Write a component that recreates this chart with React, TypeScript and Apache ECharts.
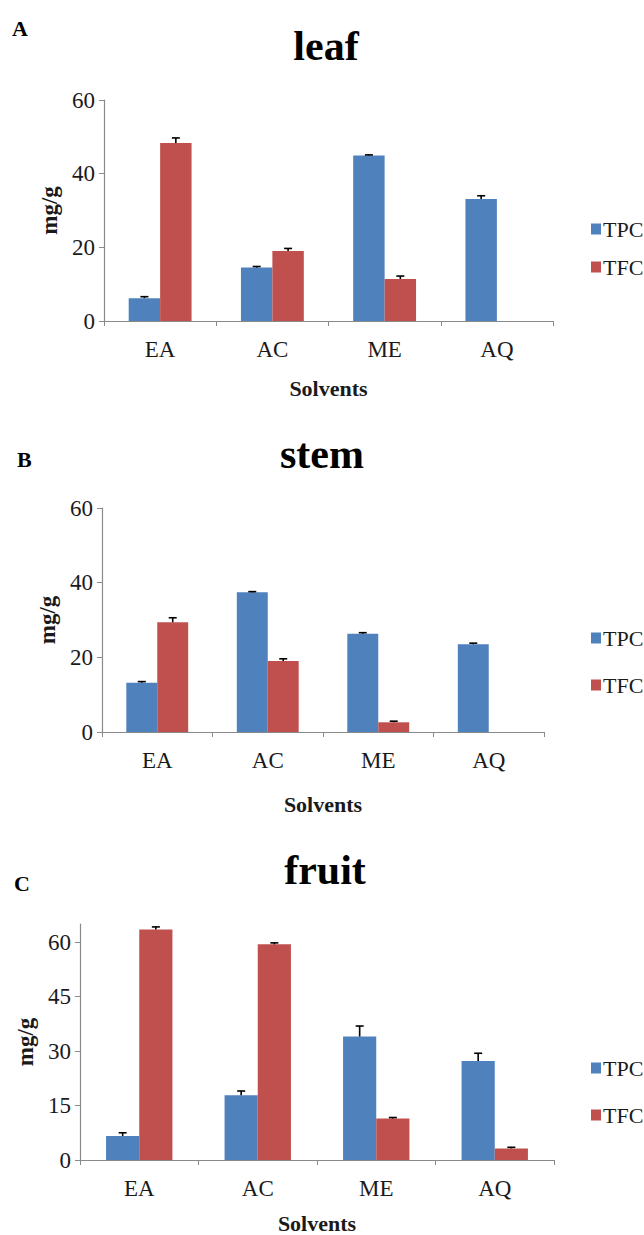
import React, { useEffect, useRef } from "react";
import * as echarts from "echarts";

// ---- data ----
const categories = ["EA", "AC", "ME", "AQ"];
const seriesNames = ["TPC", "TFC"];

const leafTPC = [6.2, 14.5, 44.9, 33.1];
const leafTPCErr = [0.4, 0.3, 0.2, 0.9];
const leafTFC = [48.3, 19.0, 11.4, 0];
const leafTFCErr = [1.4, 0.7, 0.8, 0];

const stemTPC = [13.2, 37.4, 26.3, 23.5];
const stemTPCErr = [0.3, 0.2, 0.3, 0.3];
const stemTFC = [29.4, 19.0, 2.6, 0];
const stemTFCErr = [1.2, 0.6, 0.3, 0];

const fruitTPC = [6.6, 17.8, 34.0, 27.3];
const fruitTPCErr = [0.9, 1.2, 2.9, 2.1];
const fruitTFC = [63.5, 59.4, 11.4, 3.2];
const fruitTFCErr = [0.7, 0.4, 0.3, 0.3];

const panelTitles = ["leaf", "stem", "fruit"];
const panelLetters = ["A", "B", "C"];
const yMax = [60, 60, 65];
const yInterval = [20, 20, 15];

// ---- layout / style ----
const FONT = "'Liberation Serif', 'Times New Roman', serif";
const BLUE = "#4F81BD";
const RED = "#C0504D";
const AXIS = "#8a8a8a";
const TEXT = "#1a1a1a";
const GAP = 0.44;

const layouts = [
  { grid: { left: 104, top: 100, width: 449, height: 221 }, titleX: 326, titleY: 46, letterX: 12, letterY: 28, legendTop: 213, legendGap: 16, xNameGap: 56, yNameGap: 43 },
  { grid: { left: 102, top: 508, width: 442, height: 224 }, titleX: 322, titleY: 454, letterX: 17, letterY: 459, legendTop: 622, legendGap: 25, xNameGap: 61, yNameGap: 41 },
  { grid: { left: 80, top: 924, width: 474, height: 238 }, titleX: 325, titleY: 870, letterX: 14, letterY: 883, legendTop: 1052, legendGap: 25, xNameGap: 52, yNameGap: 43 },
];

const panelData = [
  { tpc: leafTPC, tpcErr: leafTPCErr, tfc: leafTFC, tfcErr: leafTFCErr },
  { tpc: stemTPC, tpcErr: stemTPCErr, tfc: stemTFC, tfcErr: stemTFCErr },
  { tpc: fruitTPC, tpcErr: fruitTPCErr, tfc: fruitTFC, tfcErr: fruitTFCErr },
];

function errRender(side: number) {
  return (params: any, api: any) => {
    const x = api.value(0);
    const y = api.value(1);
    const e = api.value(2);
    if (!e) return null;
    const base = api.coord([x, y]);
    const top = api.coord([x, y + e]);
    const band = api.size([1, 0])[0];
    const barW = (band * (1 - GAP)) / 2;
    const cx = base[0] + (side * barW) / 2;
    const st = { stroke: "#000", lineWidth: 1.6 };
    return {
      type: "group",
      children: [
        { type: "line", shape: { x1: cx, y1: base[1], x2: cx, y2: top[1] }, style: st },
        { type: "line", shape: { x1: cx - 4, y1: top[1], x2: cx + 4, y2: top[1] }, style: st },
      ],
    };
  };
}

function buildOption() {
  const grid: any[] = [];
  const xAxis: any[] = [];
  const yAxis: any[] = [];
  const legend: any[] = [];
  const series: any[] = [];
  const graphic: any[] = [];

  layouts.forEach((L, i) => {
    grid.push({ ...L.grid, containLabel: false });
    xAxis.push({
      type: "category",
      gridIndex: i,
      data: categories,
      name: "Solvents",
      nameLocation: "middle",
      nameGap: L.xNameGap,
      nameTextStyle: { fontFamily: FONT, fontWeight: "bold", fontSize: 22, color: TEXT },
      axisLine: { lineStyle: { color: AXIS, width: 1.2 } },
      axisTick: { show: true, length: 5, lineStyle: { color: AXIS } },
      axisLabel: { fontFamily: FONT, fontSize: 23, color: TEXT, margin: 17 },
      splitLine: { show: false },
    });
    yAxis.push({
      type: "value",
      gridIndex: i,
      min: 0,
      max: yMax[i],
      interval: yInterval[i],
      name: "mg/g",
      nameLocation: "middle",
      nameRotate: 90,
      nameGap: L.yNameGap,
      nameTextStyle: { fontFamily: FONT, fontWeight: "bold", fontSize: 23, color: TEXT },
      axisLine: { show: true, lineStyle: { color: AXIS, width: 1.2 } },
      axisTick: { show: true, length: 5, lineStyle: { color: AXIS } },
      axisLabel: {
        fontFamily: FONT,
        fontSize: 23,
        color: TEXT,
        margin: 9,
        showMaxLabel: yMax[i] % yInterval[i] === 0,
        formatter: (v: number) => (v % yInterval[i] === 0 ? String(v) : ""),
      },
      splitLine: { show: false },
    });
    legend.push({
      data: seriesNames,
      orient: "vertical",
      left: 586,
      top: L.legendTop,
      itemWidth: 10,
      itemHeight: 11,
      itemGap: L.legendGap,
      icon: "rect",
      selectedMode: false,
      textStyle: { fontFamily: FONT, fontSize: 22, color: TEXT, padding: [0, 0, 0, -3] },
    });
    const d = panelData[i];
    series.push({
      type: "bar",
      name: "TPC",
      xAxisIndex: i,
      yAxisIndex: i,
      data: d.tpc,
      itemStyle: { color: BLUE },
      barGap: "0%",
      barCategoryGap: GAP * 100 + "%",
    });
    series.push({
      type: "bar",
      name: "TFC",
      xAxisIndex: i,
      yAxisIndex: i,
      data: d.tfc,
      itemStyle: { color: RED },
      barGap: "0%",
      barCategoryGap: GAP * 100 + "%",
    });
    series.push({
      type: "custom",
      name: "TPC err",
      xAxisIndex: i,
      yAxisIndex: i,
      z: 5,
      data: d.tpc.map((v, k) => [k, v, d.tpcErr[k]]),
      encode: { x: 0, y: 1 },
      renderItem: errRender(-1),
    });
    series.push({
      type: "custom",
      name: "TFC err",
      xAxisIndex: i,
      yAxisIndex: i,
      z: 5,
      data: d.tfc.map((v, k) => [k, v, d.tfcErr[k]]),
      encode: { x: 0, y: 1 },
      renderItem: errRender(1),
    });
    graphic.push({
      type: "text",
      x: L.titleX,
      y: L.titleY,
      style: {
        text: panelTitles[i],
        font: `bold 42px ${FONT}`,
        fill: "#000",
        textAlign: "center",
        textVerticalAlign: "middle",
      },
    });
    graphic.push({
      type: "text",
      x: L.letterX,
      y: L.letterY,
      style: {
        text: panelLetters[i],
        font: `bold 22px ${FONT}`,
        fill: "#000",
        textAlign: "left",
        textVerticalAlign: "middle",
      },
    });
  });

  return {
    animation: false,
    backgroundColor: "#ffffff",
    grid,
    xAxis,
    yAxis,
    legend,
    series,
    graphic,
  };
}

export default function App() {
  const ref = useRef<HTMLDivElement>(null);
  useEffect(() => {
    if (!ref.current) return;
    const chart = echarts.init(ref.current, null, { renderer: "svg" });
    chart.setOption(buildOption() as any);
    return () => chart.dispose();
  }, []);
  return (
    <div
      ref={ref}
      style={{ position: "absolute", left: 0, top: 0, width: 644, height: 1235, background: "#fff" }}
    />
  );
}
